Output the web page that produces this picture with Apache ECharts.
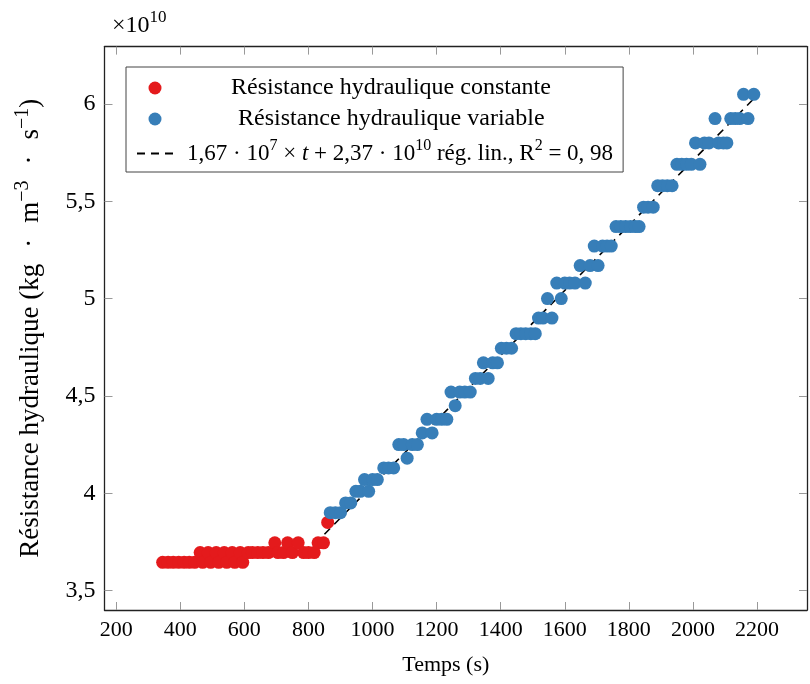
<!DOCTYPE html>
<html>
<head>
<meta charset="utf-8">
<script src="https://cdn.jsdelivr.net/npm/echarts@6/dist/echarts.min.js"></script>
<style>html,body{margin:0;padding:0;background:#fff}#c{width:810px;height:684px}</style>
</head>
<body>
<div id="c"></div>
<script>
// Data (values in units of 1e10 kg·m^-3·s^-1)
const redT = [345,362,378,395,412,428,445,462,470,487,495,512,520,537,545,562,570,587,595,612,625,642,658,675,695,705,722,735,750,768,785,800,818,830,847,860];
const redV = [3.645,3.645,3.645,3.645,3.645,3.645,3.645,3.695,3.645,3.695,3.645,3.695,3.645,3.695,3.645,3.695,3.645,3.695,3.645,3.695,3.695,3.695,3.695,3.695,3.745,3.695,3.695,3.745,3.695,3.745,3.695,3.695,3.695,3.745,3.745,3.85];
const blueT = [868,884,900,916,932,948,962,975,988,1000,1015,1035,1050,1066,1082,1097,1108,1124,1140,1155,1170,1186,1200,1216,1232,1245,1258,1272,1288,1305,1321,1336,1346,1361,1375,1390,1402,1418,1434,1448,1463,1478,1494,1508,1518,1532,1546,1560,1575,1589,1600,1615,1632,1648,1664,1679,1692,1704,1718,1732,1745,1760,1775,1790,1805,1820,1832,1846,1860,1876,1890,1905,1920,1935,1950,1965,1980,1995,2008,2022,2036,2050,2069,2080,2095,2106,2118,2132,2146,2158,2172,2190];
const blueV = [3.90,3.90,3.90,3.95,3.95,4.01,4.01,4.07,4.01,4.07,4.07,4.13,4.13,4.13,4.25,4.25,4.18,4.25,4.25,4.31,4.38,4.31,4.38,4.38,4.38,4.52,4.45,4.52,4.52,4.52,4.59,4.59,4.67,4.59,4.67,4.67,4.745,4.745,4.745,4.82,4.82,4.82,4.82,4.82,4.90,4.90,5.00,4.90,5.08,5.00,5.08,5.08,5.08,5.17,5.08,5.17,5.27,5.17,5.27,5.27,5.27,5.37,5.37,5.37,5.37,5.37,5.37,5.47,5.47,5.47,5.58,5.58,5.58,5.58,5.69,5.69,5.69,5.69,5.80,5.69,5.80,5.80,5.925,5.80,5.80,5.80,5.925,5.925,5.925,6.05,5.925,6.05];
// Linear regression endpoints (1,67e7 * t + 2,37e10)
const fitT = [850, 2190];
const fitV = [3.7895, 6.0273];
const xTicks = [200,400,600,800,1000,1200,1400,1600,1800,2000,2200];
const yTicks = [3.5,4,4.5,5,5.5,6];
const seriesNames = ['Résistance hydraulique constante', 'Résistance hydraulique variable', 'Régression linéaire'];

const FONT = 'Liberation Serif';
const FS = 22;
const LFS = 23;
const TFS = 24;
const YFS = 27;
const zip = (a, b) => a.map((v, i) => [v, b[i]]);

const chart = echarts.init(document.getElementById('c'), null, {renderer: 'canvas'});
const tickStyle = {inside: true, length: 8, lineStyle: {color: '#999', width: 1}};
const lineStyle = {show: true, onZero: false, lineStyle: {color: '#222', width: 1.3}};
const xr = {min: 163.5, max: 2356};
const yr = {min: 3.4, max: 6.295};
const sup = (fs, pb) => ({fontFamily: FONT, fontSize: fs, lineHeight: fs, padding: [0, 0, pb, 0], color: '#000'});

chart.setOption({
  animation: false,
  backgroundColor: '#fff',
  grid: {left: 104.5, right: 3, top: 46.6, bottom: 74},
  xAxis: [{
    type: 'value', ...xr, position: 'bottom',
    axisLine: lineStyle,
    axisTick: {...tickStyle, customValues: xTicks},
    axisLabel: {customValues: xTicks, fontFamily: FONT, fontSize: FS, color: '#000', margin: 9,
      formatter: v => String(v)},
    splitLine: {show: false},
    name: 'Temps (s)', nameLocation: 'middle', nameGap: 44,
    nameTextStyle: {fontFamily: FONT, fontSize: FS, color: '#000', padding: [0, 20, 0, 0]}
  }, {
    type: 'value', ...xr, position: 'top',
    axisLine: lineStyle,
    axisTick: {...tickStyle, customValues: xTicks},
    axisLabel: {show: false}, splitLine: {show: false}
  }],
  yAxis: [{
    type: 'value', ...yr, position: 'left',
    axisLine: lineStyle,
    axisTick: {...tickStyle, customValues: yTicks},
    axisLabel: {customValues: yTicks, fontFamily: FONT, fontSize: 24, color: '#000', margin: 9,
      formatter: v => String(v).replace('.', ',')},
    splitLine: {show: false},
    name: '{b|Résistance hydraulique (kg}{g| }{b|·}{g| }{b|m}{s|−3}{g| }{b|·}{g| }{b|s}{s|−1}{b|)}',
    nameLocation: 'middle', nameGap: 58, nameRotate: 90,
    nameTextStyle: {fontFamily: FONT, fontSize: YFS, color: '#000',
      rich: {b: {fontFamily: FONT, fontSize: YFS, lineHeight: 32, color: '#000'},
             g: {fontFamily: FONT, fontSize: YFS, lineHeight: 32, width: 16},
             s: sup(20, 15)}}
  }, {
    type: 'value', ...yr, position: 'right',
    axisLine: lineStyle,
    axisTick: {...tickStyle, customValues: yTicks},
    axisLabel: {show: false}, splitLine: {show: false}
  }],
  legend: {
    orient: 'vertical', left: 126, top: 67,
    backgroundColor: '#fff', borderColor: '#444', borderWidth: 1,
    padding: [9, 10, 3, 10], itemGap: 7, itemWidth: 36, itemHeight: 13,
    data: seriesNames,
    textStyle: {fontFamily: FONT, fontSize: LFS, color: '#000',
      rich: {
        p1: {width: 53}, p2: {width: 60}, p3: {width: 9},
        t: {fontFamily: FONT, fontSize: TFS, lineHeight: 28, color: '#000'},
        r: {fontFamily: FONT, fontSize: LFS, lineHeight: 38, color: '#000'},
        i: {fontFamily: FONT, fontSize: LFS, lineHeight: 38, fontStyle: 'italic', color: '#000'},
        s: sup(16, 15)
      }},
    formatter: name => {
      if (name === seriesNames[0]) return '{p1| }{t|' + name + '}';
      if (name === seriesNames[1]) return '{p2| }{t|' + name + '}';
      return '{p3| }{r|1,67 · 10}{s|7}{r| × }{i|t}{r| + 2,37 · 10}{s|10}{r| rég. lin., R}{s|2}{r| = 0, 98}';
    }
  },
  graphic: [{
    type: 'text', left: 112, top: 9,
    style: {text: '{b|×10}{s|10}', rich: {
      b: {fontFamily: FONT, fontSize: 24, lineHeight: 36, color: '#000'}, s: sup(17, 17)}}
  }],
  series: [{
    name: seriesNames[2], type: 'line', data: zip(fitT, fitV), symbol: 'none', z: 1,
    lineStyle: {color: '#000', width: 1.6, type: [8, 6]}, itemStyle: {color: 'rgba(0,0,0,0)', borderWidth: 0}
  }, {
    name: seriesNames[0], type: 'scatter', data: zip(redT, redV), symbolSize: 13, z: 3,
    itemStyle: {color: '#e41a1c', opacity: 1}
  }, {
    name: seriesNames[1], type: 'scatter', data: zip(blueT, blueV), symbolSize: 13, z: 3,
    itemStyle: {color: '#377eb8', opacity: 1}
  }]
});
</script>
</body>
</html>
